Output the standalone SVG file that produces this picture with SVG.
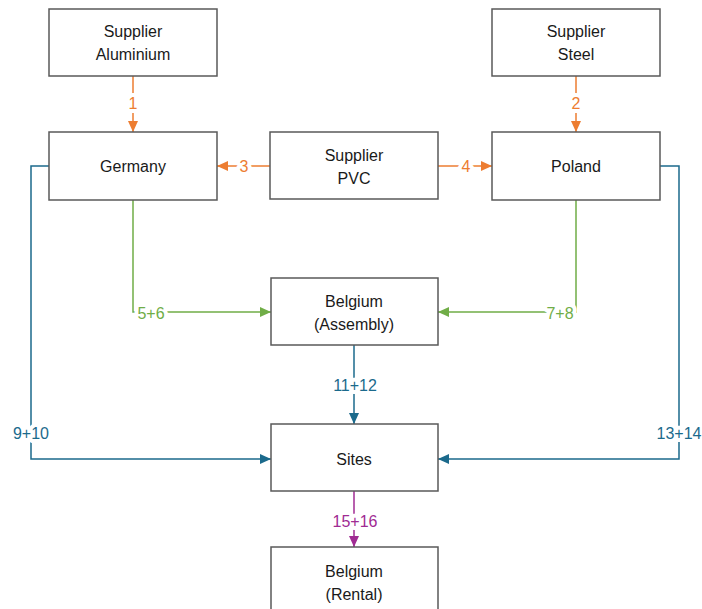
<svg xmlns="http://www.w3.org/2000/svg" width="702" height="609" viewBox="0 0 702 609">
<style>
.box{fill:#fff;stroke:#595959;stroke-width:1.5}
.t{font-family:"Liberation Sans",Arial,sans-serif;font-size:16px;fill:#1a1a1a;text-anchor:middle;dominant-baseline:central}
.c{fill:none;stroke-width:1.5}
.lbl{font-family:"Liberation Sans",Arial,sans-serif;font-size:16px;text-anchor:middle;dominant-baseline:central;paint-order:stroke;stroke:#fff;stroke-width:8px;stroke-linejoin:round}
.o{stroke:#ED7D31}.g{stroke:#70AD47}.b{stroke:#1B6A8C}.p{stroke:#A02B93}
</style>
<defs>
<marker id="ao" markerUnits="userSpaceOnUse" markerWidth="12" markerHeight="12" refX="11" refY="6" orient="auto"><path d="M0,1 L11,6 L0,11 Z" fill="#ED7D31"/></marker>
<marker id="ag" markerUnits="userSpaceOnUse" markerWidth="12" markerHeight="12" refX="11" refY="6" orient="auto"><path d="M0,1 L11,6 L0,11 Z" fill="#70AD47"/></marker>
<marker id="ab" markerUnits="userSpaceOnUse" markerWidth="12" markerHeight="12" refX="11" refY="6" orient="auto"><path d="M0,1 L11,6 L0,11 Z" fill="#1B6A8C"/></marker>
<marker id="ap" markerUnits="userSpaceOnUse" markerWidth="12" markerHeight="12" refX="11" refY="6" orient="auto"><path d="M0,1 L11,6 L0,11 Z" fill="#A02B93"/></marker>
</defs>
<g id="connectors">
<path class="c o" d="M133,76 V132" marker-end="url(#ao)"/>
<path class="c o" d="M576,76 V132" marker-end="url(#ao)"/>
<path class="c o" d="M270,166 H217" marker-end="url(#ao)"/>
<path class="c o" d="M438,166 H492" marker-end="url(#ao)"/>
<path class="c g" d="M133,200 V312 H271" marker-end="url(#ag)"/>
<path class="c g" d="M576,200 V312 H438" marker-end="url(#ag)"/>
<path class="c b" d="M354,345 V424" marker-end="url(#ab)"/>
<path class="c b" d="M49,166 H31 V459 H271" marker-end="url(#ab)"/>
<path class="c b" d="M660,166 H679 V459 H438" marker-end="url(#ab)"/>
<path class="c p" d="M354,491 V547" marker-end="url(#ap)"/>
<text class="lbl" x="133" y="103" fill="#ED7D31">1</text>
<text class="lbl" x="576" y="103" fill="#ED7D31">2</text>
<text class="lbl" x="244" y="166" fill="#ED7D31">3</text>
<text class="lbl" x="466" y="166" fill="#ED7D31">4</text>
<text class="lbl" x="151" y="313" fill="#70AD47">5+6</text>
<text class="lbl" x="560" y="313" fill="#70AD47">7+8</text>
<text class="lbl" x="355" y="385" fill="#1B6A8C">11+12</text>
<text class="lbl" x="31" y="433" fill="#1B6A8C">9+10</text>
<text class="lbl" x="679" y="433" fill="#1B6A8C">13+14</text>
<text class="lbl" x="355" y="521" fill="#A02B93">15+16</text>
</g>
<g id="supplier-aluminium"><rect class="box" x="49" y="9" width="168" height="67"/><text class="t" x="133" y="31">Supplier</text><text class="t" x="133" y="54">Aluminium</text></g>
<g id="supplier-steel"><rect class="box" x="492" y="9" width="168" height="67"/><text class="t" x="576" y="31">Supplier</text><text class="t" x="576" y="54">Steel</text></g>
<g id="germany"><rect class="box" x="49" y="132" width="168" height="68"/><text class="t" x="133" y="166">Germany</text></g>
<g id="supplier-pvc"><rect class="box" x="270" y="132" width="168" height="67"/><text class="t" x="354" y="155">Supplier</text><text class="t" x="354" y="178">PVC</text></g>
<g id="poland"><rect class="box" x="492" y="132" width="168" height="68"/><text class="t" x="576" y="166">Poland</text></g>
<g id="belgium-assembly"><rect class="box" x="271" y="278" width="167" height="67"/><text class="t" x="354" y="301">Belgium</text><text class="t" x="354" y="324">(Assembly)</text></g>
<g id="sites"><rect class="box" x="271" y="424" width="167" height="67"/><text class="t" x="354" y="459">Sites</text></g>
<g id="belgium-rental"><rect class="box" x="271" y="547" width="167" height="67"/><text class="t" x="354" y="571">Belgium</text><text class="t" x="354" y="594">(Rental)</text></g>
</svg>
